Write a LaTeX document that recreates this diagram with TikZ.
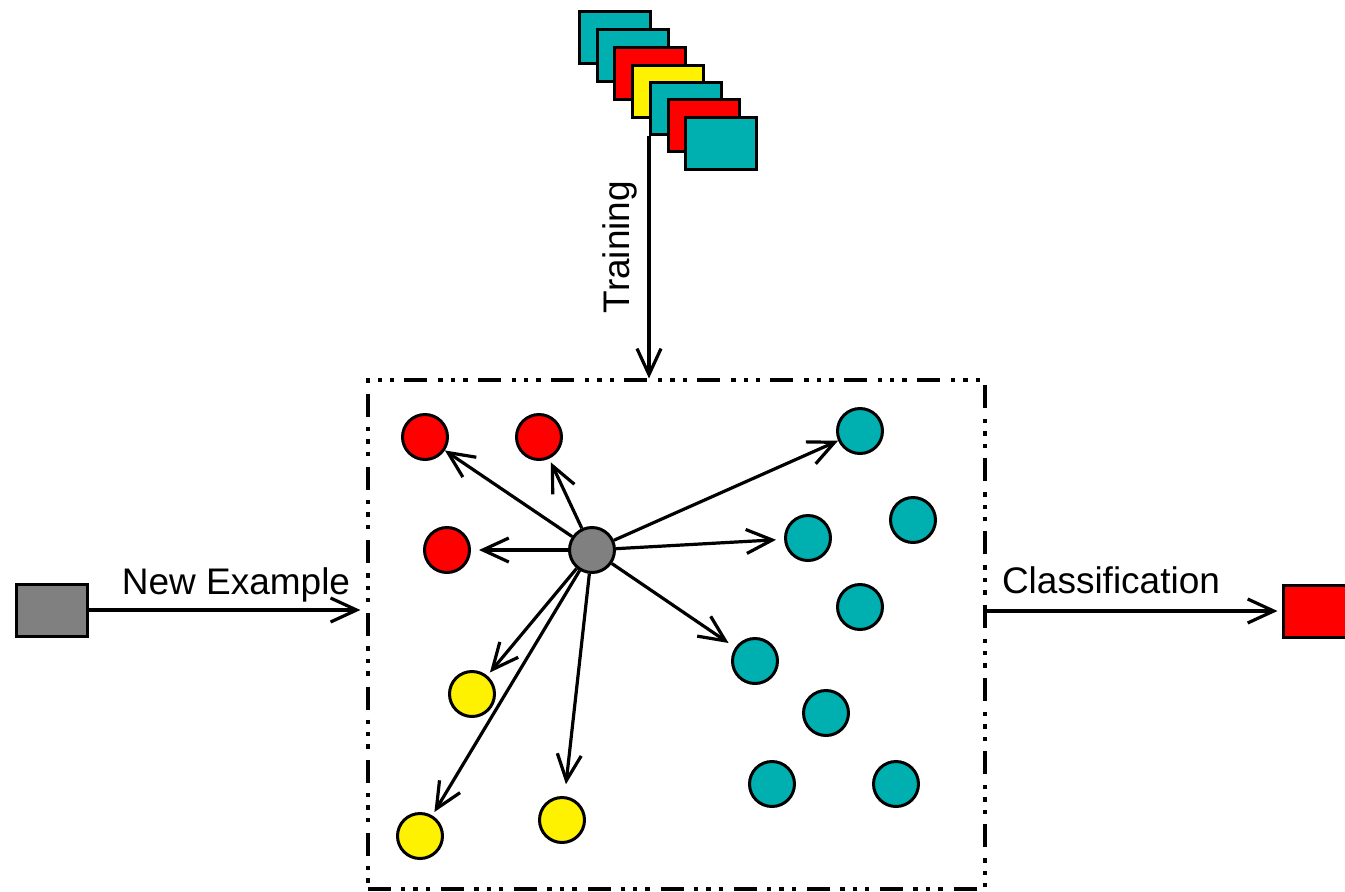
\documentclass[tikz,border=0pt]{standalone}
\usepackage{fontspec}
\setmainfont{Liberation Sans}
\usetikzlibrary{arrows.meta,fit}
\definecolor{teal}{RGB}{0,176,176}
\definecolor{midgray}{RGB}{128,128,128}
\tikzset{
  line/.style={line width=1.6pt},
  arr/.style={line, -{Straight Barb[length=13pt,width=12pt]}},
  card/.style={draw, line width=1.6pt, anchor=north west, minimum width=35.5pt, minimum height=26pt, inner sep=0pt},
  pt/.style={circle, draw, line width=1.5pt, minimum size=22.5pt, inner sep=0pt},
  boxstyle/.style={draw, line width=1.6pt, inner sep=0pt,
    dash pattern=on 11.5pt off 5pt on 2.2pt off 4pt on 2.2pt off 4pt on 2.2pt off 5.5pt},
  sq/.style={draw, line width=1.5pt, minimum width=35.5pt, minimum height=26pt, inner sep=0pt},
  lbl/.style={font=\fontsize{18.5}{22}\selectfont, inner sep=0pt},
}
\begin{document}
\begin{tikzpicture}[x=0.5pt,y=-0.5pt]
\useasboundingbox (0,0) rectangle (1345,891);

% stack of training cards
\node[card, fill=teal]   (c1) at (578,10) {};
\node[card, fill=teal]   (c2) at (596,28) {};
\node[card, fill=red]    (c3) at (613,46) {};
\node[card, fill=yellow] (c4) at (631,64) {};
\node[card, fill=teal]   (c5) at (649,81) {};
\node[card, fill=red]    (c6) at (667,98) {};
\node[card, fill=teal]   (c7) at (684,116) {};

% classifier region
\node[boxstyle, fit={(368,380) (985,889)}] (box) {};

% training arrow
\draw[arr] (c5.south west) -- (c5.south west |- box.north);
\node[lbl, rotate=90] (train) at (620,247) {Training};

% input example
\node[sq, fill=midgray] (newex) at (51.5,610) {};
\draw[arr, shorten >=3pt] (newex.east) -- (newex.east -| box.west);
\node[lbl] (newlbl) at (236,585) {New Example};

% output class
\node[sq, fill=red] (outc) at (1318.5,611) {};
\coordinate (outstart) at (box.east |- outc.west);
\draw[arr, shorten >=2pt] (outstart) -- (outc.west);
\node[lbl] (clslbl) at (1111,580) {Classification};

% labelled examples
\node[pt, fill=red] (r1) at (425,437) {};
\node[pt, fill=red] (r2) at (539,437) {};
\node[pt, fill=red] (r3) at (447,550) {};
\node[pt, fill=teal] (t1) at (860,431) {};
\node[pt, fill=teal] (t2) at (913,520) {};
\node[pt, fill=teal] (t3) at (808,538) {};
\node[pt, fill=teal] (t4) at (860,607) {};
\node[pt, fill=teal] (t5) at (755,661) {};
\node[pt, fill=teal] (t6) at (826,713) {};
\node[pt, fill=teal] (t7) at (772,784) {};
\node[pt, fill=teal] (t8) at (896,784) {};
\node[pt, fill=yellow] (y1) at (472,694) {};
\node[pt, fill=yellow] (y2) at (420,836) {};
\node[pt, fill=yellow] (y3) at (562,820) {};

% query point and its neighbours
\node[pt, fill=midgray] (q) at (592,550) {};
\foreach \n/\s in {r1/0,r2/2,r3/4,t1/0,t3/4,t5/4,y1/2,y2/2,y3/6}
  \draw[arr, shorten >=\s pt] (q) -- (\n);
\end{tikzpicture}
\end{document}
